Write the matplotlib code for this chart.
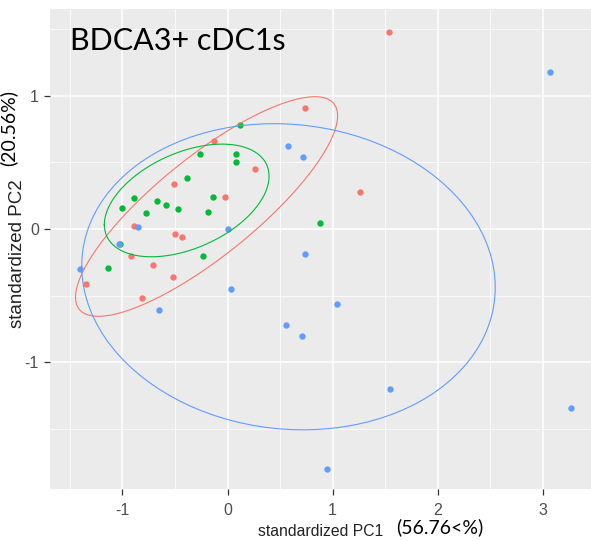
import numpy as np
import matplotlib
matplotlib.use("Agg")
import matplotlib.pyplot as plt
from matplotlib import font_manager

plt.rcParams["axes.unicode_minus"] = False

# PCA scores per group (standardized PC1, PC2)
red_pc1 = [0.74, -0.13, 0.26, -0.51, -0.02, -0.89, -0.50, -0.43, -0.92, -0.71,
           -0.52, -1.35, -0.81, 1.535, 1.26]
red_pc2 = [0.91, 0.66, 0.45, 0.34, 0.24, 0.025, -0.035, -0.06, -0.20, -0.27,
           -0.36, -0.41, -0.52, 1.48, 0.28]

green_pc1 = [0.12, -0.26, 0.08, 0.08, -0.39, -0.14, -0.89, -1.00, -0.67, -0.59,
             -0.78, -0.47, -0.19, 0.88, -1.02, -0.23, -1.14]
green_pc2 = [0.78, 0.56, 0.56, 0.50, 0.38, 0.24, 0.23, 0.155, 0.21, 0.18,
             0.12, 0.15, 0.13, 0.045, -0.11, -0.20, -0.29]

blue_pc1 = [0.58, 0.72, -0.855, 0.0, -1.03, 3.07, -1.40, 0.03, -0.65, 0.74,
            1.04, 0.56, 0.71, 0.95, 1.55, 3.27]
blue_pc2 = [0.62, 0.54, 0.015, 0.0, -0.115, 1.18, -0.30, -0.45, -0.61, -0.19,
            -0.56, -0.72, -0.80, -1.80, -1.20, -1.34]

x_ticks = [-1, 0, 1, 2, 3]
y_ticks = [-1, 0, 1]
title_text = "BDCA3+ cDC1s"
xlab_main = "standardized PC1"
xlab_pct = "(56.76<%)"
ylab_main = "standardized PC2"
ylab_pct = "(20.56%)"

groups = [
    (red_pc1, red_pc2, "#F8766D"),
    (green_pc1, green_pc2, "#00BA38"),
    (blue_pc1, blue_pc2, "#619CFF"),
]

available = {f.name for f in font_manager.fontManager.ttflist}
arial = "Liberation Sans" if "Liberation Sans" in available else "DejaVu Sans"
calib = "Lato" if "Lato" in available else "DejaVu Sans"


def normal_ellipse(x, y, prob=0.68, n=100):
    pts = np.column_stack([x, y])
    sigma = np.cov(pts, rowvar=False)
    mu = pts.mean(axis=0)
    ed = np.sqrt(-2.0 * np.log(1.0 - prob))
    theta = np.linspace(-np.pi, np.pi, n)
    circle = np.column_stack([np.cos(theta), np.sin(theta)])
    upper = np.linalg.cholesky(sigma).T
    return circle @ upper * ed + mu


W, H = 591, 541
fig = plt.figure(figsize=(W / 100, H / 100), dpi=100)
left, right, top, bottom = 50, 591, 9, 489
ax = fig.add_axes([left / W, 1 - bottom / H, (right - left) / W, (bottom - top) / H])
ax.set_facecolor("#EBEBEB")
for s in ax.spines.values():
    s.set_visible(False)

ax.set_xlim(-1.69, 3.46)
ax.set_ylim(-1.95, 1.65)
ax.set_xticks(x_ticks)
ax.set_yticks(y_ticks)
ax.set_xticks([-1.5, -0.5, 0.5, 1.5, 2.5], minor=True)
ax.set_yticks([-1.5, -0.5, 0.5, 1.5], minor=True)
ax.grid(which="major", color="white", linewidth=1.1)
ax.grid(which="minor", color="white", linewidth=0.55)
ax.set_axisbelow(True)
ax.tick_params(which="minor", length=0)
ax.tick_params(which="major", length=4, width=0.9, color="#333333",
               labelcolor="#4D4D4D", labelsize=11.5)
ax.tick_params(axis="x", pad=6)
ax.tick_params(axis="y", pad=4)
for lab in ax.get_xticklabels() + ax.get_yticklabels():
    lab.set_fontfamily(arial)

for x, y, c in groups:
    ax.scatter(x, y, s=21, color=c, linewidths=0, zorder=3)
for x, y, c in groups:
    e = normal_ellipse(x, y)
    ax.plot(e[:, 0], e[:, 1], color=c, linewidth=0.8, zorder=4)

fig.text(70 / W, 1 - 50 / H, title_text, fontsize=22, family=calib,
         ha="left", va="baseline", color="black")

fig.text(321 / W, 1 - 531 / H, xlab_main, fontsize=11.3, family=arial,
         color="#222222", ha="center", va="center")
fig.text(439.5 / W, 1 - 527 / H, xlab_pct, fontsize=14, family=calib,
         color="black", ha="center", va="center")
fig.text(17.5 / W, 1 - 253.5 / H, ylab_main, fontsize=13.5, family=arial,
         color="#222222", ha="center", va="center", rotation=90)
fig.text(8.5 / W, 1 - 128 / H, ylab_pct, fontsize=14, family=calib,
         color="black", ha="center", va="center", rotation=90)

fig.savefig("out.png", dpi=100)
